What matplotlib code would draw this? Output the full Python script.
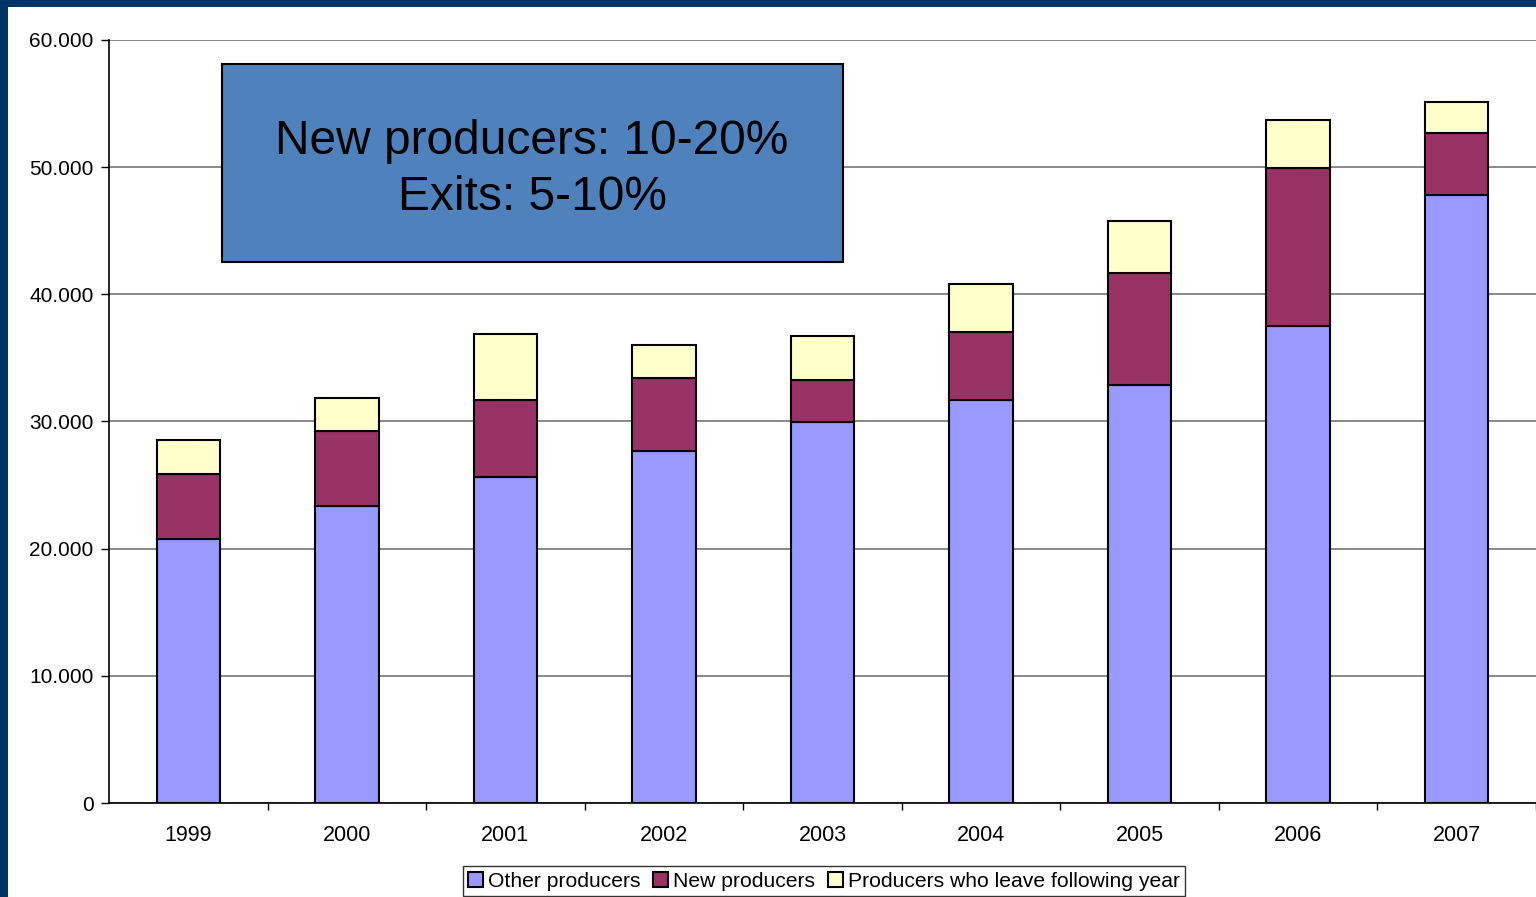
import matplotlib.pyplot as plt
from matplotlib.patches import Rectangle
from matplotlib.ticker import FuncFormatter, MultipleLocator
import numpy as np

plt.rcParams['font.family'] = ['Liberation Sans', 'DejaVu Sans']

# Producers per year (stacked)
years = ['1999', '2000', '2001', '2002', '2003', '2004', '2005', '2006', '2007']
other_producers = [20760, 23355, 25636, 27680, 29961, 31691, 32870, 37510, 47811]
new_producers = [5110, 5900, 6055, 5740, 3300, 5350, 8810, 12425, 4875]
leave_next_year = [2670, 2595, 5190, 2595, 3460, 3775, 4090, 3775, 2435]

W, H = 1536, 897
fig = plt.figure(figsize=(W / 100, H / 100), dpi=100, facecolor='#003366')
# white slide area inside the dark frame
fig.patches.append(Rectangle((8 / W, 0), 1 - 8 / W, 1 - 7 / H, transform=fig.transFigure,
                             facecolor='white', edgecolor='none', zorder=-5))

ax = fig.add_axes([109 / W, 1 - 803 / H, (W - 109) / W, (803 - 40) / H])
ax.set_facecolor('none')

x = np.arange(len(years))
bw = 0.40
bottom2 = np.array(other_producers)
bottom3 = bottom2 + np.array(new_producers)
ax.bar(x, other_producers, bw, color='#9999FF', edgecolor='black', linewidth=1.5,
       label='Other producers', zorder=3)
ax.bar(x, new_producers, bw, bottom=bottom2, color='#993366', edgecolor='black',
       linewidth=1.5, label='New producers', zorder=3)
ax.bar(x, leave_next_year, bw, bottom=bottom3, color='#FFFFCC', edgecolor='black',
       linewidth=1.5, label='Producers who leave following year', zorder=3)

ax.set_ylim(0, 60000)
ax.set_xlim(-0.5, -0.5 + (W - 109) / 158.84)
ax.yaxis.set_major_locator(MultipleLocator(10000))
ax.yaxis.set_major_formatter(FuncFormatter(lambda v, p: '0' if v == 0 else f'{int(v):,}'.replace(',', '.')))
ax.grid(axis='y', color='#808080', linewidth=1.3, zorder=1)
ax.set_axisbelow(True)

ax.set_xticks(x)
ax.set_xticklabels(years)
ax.set_xticks(np.arange(len(years)) + 0.5, minor=True)
ax.tick_params(axis='x', which='major', length=0, pad=16, labelsize=15.5)
ax.tick_params(axis='x', which='minor', length=5, width=1, direction='out')
ax.tick_params(axis='y', length=6, width=1, direction='out', pad=5, labelsize=15)

for s in ['top', 'right']:
    ax.spines[s].set_visible(False)
ax.spines['left'].set_linewidth(1.2)
ax.spines['bottom'].set_linewidth(1.2)

# annotation box
fig.patches.append(Rectangle((222 / W, 1 - 262 / H), 621 / W, 198 / H, transform=fig.transFigure,
                             facecolor='#4F81BD', edgecolor='black', linewidth=1.5, zorder=5))
fig.text(532 / W, 1 - 141 / H, 'New producers: 10-20%', ha='center', va='center',
         fontsize=34.5, color='black', zorder=6)
fig.text(532 / W, 1 - 197 / H, 'Exits: 5-10%', ha='center', va='center',
         fontsize=34.5, color='black', zorder=6)

leg = fig.legend(loc='center', bbox_to_anchor=(824 / W, 1 - 881 / H), ncol=3,
                 fontsize=15.2, frameon=True, fancybox=False, edgecolor='black',
                 handlelength=0.7, handleheight=0.7, handletextpad=0.25,
                 columnspacing=0.6, borderpad=0.25, borderaxespad=0)
leg.get_frame().set_linewidth(1.0)

fig.savefig('out.png', dpi=100, facecolor=fig.get_facecolor())
